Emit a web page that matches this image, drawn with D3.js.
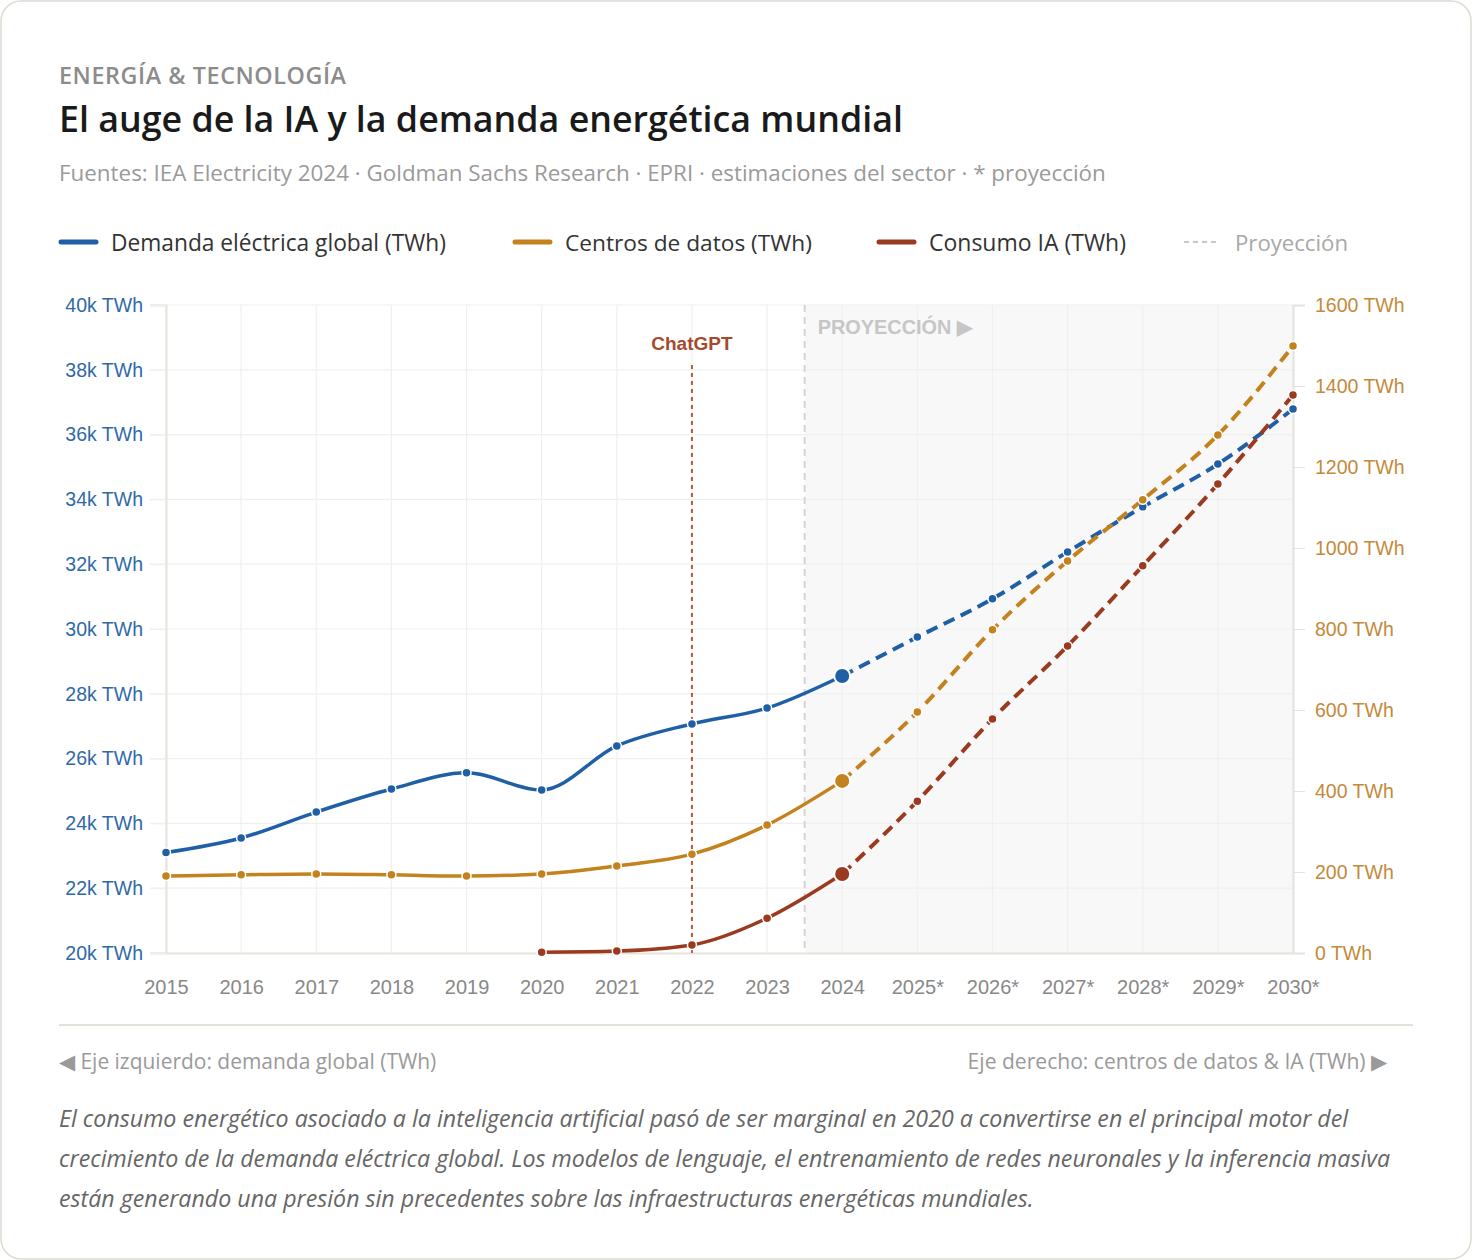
<!DOCTYPE html>
<html>
<head>
<meta charset="utf-8">
<script src="https://cdn.jsdelivr.net/npm/d3@7"></script>
<style>
  html, body { margin: 0; padding: 0; background: #ffffff; }
  svg { display: block; }
</style>
</head>
<body>
<svg id="chart" width="1472" height="1260"></svg>
<script>
// ---------- DATA ----------
const years = ["2015","2016","2017","2018","2019","2020","2021","2022","2023","2024","2025*","2026*","2027*","2028*","2029*","2030*"];
const globalDemand = [23100, 23550, 24350, 25060, 25560, 25030, 26390, 27070, 27560, 28550, 29750, 30930, 32380, 33770, 35090, 36790];
const dataCenters = [190, 193, 195, 193, 190, 195, 215, 244, 316, 425, 595, 798, 968, 1119, 1279, 1499];
const aiConsumption = [null, null, null, null, null, 2, 5, 20, 86, 195, 375, 578, 758, 956, 1158, 1378];
const leftTicks = [20000, 22000, 24000, 26000, 28000, 30000, 32000, 34000, 36000, 38000, 40000];
const rightTicks = [0, 200, 400, 600, 800, 1000, 1200, 1400, 1600];
const lastActual = "2024";
const chatgptYear = "2022";
const projectionStart = 8.5; // between 2023 and 2024 (index)
const legendItems = [
  {label: "Demanda eléctrica global (TWh)", color: "#1f5fa5", dash: null},
  {label: "Centros de datos (TWh)", color: "#c4821f", dash: null},
  {label: "Consumo IA (TWh)", color: "#9a3a1f", dash: null},
  {label: "Proyección", color: "#c8c8c8", dash: "5,4"}
];

// ---------- STYLE ----------
const C = {blue: "#1f5fa5", gold: "#c4821f", rust: "#9a3a1f"};
const HFONT = "'Open Sans', 'Noto Sans', sans-serif";
const AFONT = "'Liberation Sans', Arial, sans-serif";

const svg = d3.select("#chart");
function fit(sel, target) {
  const node = sel.node();
  const w = node.getComputedTextLength();
  const fs = parseFloat(sel.attr("font-size"));
  if (w > 0) sel.attr("font-size", (fs * target / w).toFixed(2));
}

// card
svg.append("rect").attr("x", 1).attr("y", 1).attr("width", 1470).attr("height", 1258)
  .attr("rx", 20).attr("fill", "#fff").attr("stroke", "#dcdcd3").attr("stroke-width", 1.5);

// header
const kicker = svg.append("text").attr("x", 59).attr("y", 84).attr("font-family", HFONT)
  .attr("font-size", 21).attr("font-weight", 600).attr("letter-spacing", 0.6).attr("fill", "#8c8c8c")
  .text("ENERGÍA & TECNOLOGÍA");
fit(kicker, 289);
const title = svg.append("text").attr("x", 59).attr("y", 132).attr("font-family", HFONT)
  .attr("font-size", 34).attr("font-weight", 600).attr("fill", "#1a1a1a")
  .text("El auge de la IA y la demanda energética mundial");
fit(title, 844);
const sub = svg.append("text").attr("x", 59).attr("y", 181).attr("font-family", HFONT)
  .attr("font-size", 21).attr("fill", "#9a9a9a")
  .text("Fuentes: IEA Electricity 2024 · Goldman Sachs Research · EPRI · estimaciones del sector · * proyección");
fit(sub, 1047);

// legend
const legendX = [59, 513, 877, 1182];
const legendW = [335, 247, 197, 113];
legendItems.forEach((it, i) => {
  const g = svg.append("g").attr("transform", `translate(${legendX[i]},244)`);
  g.append("line").attr("x1", 2).attr("x2", 37).attr("y1", -2).attr("y2", -2)
    .attr("stroke", it.color).attr("stroke-width", it.dash ? 2 : 5)
    .attr("stroke-linecap", it.dash ? "butt" : "round")
    .attr("stroke-dasharray", it.dash);
  const t = g.append("text").attr("x", i === 3 ? 53 : 52).attr("y", 7).attr("font-family", HFONT)
    .attr("font-size", 21).attr("fill", it.dash ? "#a8a8a8" : "#333").text(it.label);
  fit(t, legendW[i]);
});

// ---------- SCALES ----------
const x0 = 166, x1 = 1293, yTop = 305, yBot = 953;
const x = d3.scalePoint().domain(years).range([x0, x1]);
const yL = d3.scaleLinear().domain([20000, 40000]).range([yBot, yTop]);
const yR = d3.scaleLinear().domain([0, 1600]).range([yBot, yTop]);
const step = x.step();

// projection shading
const projX = x0 + projectionStart * step;
svg.append("rect").attr("x", projX).attr("y", yTop).attr("width", x1 - projX).attr("height", yBot - yTop)
  .attr("fill", "#f8f8f8");

// grid
const grid = svg.append("g");
grid.selectAll(".h").data(leftTicks).join("line")
  .attr("x1", 150).attr("x2", x1).attr("y1", d => yL(d)).attr("y2", d => yL(d))
  .attr("stroke", "#efefec").attr("stroke-width", 1.2);
grid.selectAll(".v").data(years).join("line")
  .attr("x1", d => x(d)).attr("x2", d => x(d)).attr("y1", yTop).attr("y2", yBot)
  .attr("stroke", "#efefec").attr("stroke-width", 1.2);

// projection dashed line
svg.append("line").attr("x1", projX).attr("x2", projX).attr("y1", yTop).attr("y2", yBot)
  .attr("stroke", "#d4d4d4").attr("stroke-width", 2).attr("stroke-dasharray", "7,5");
const projLabel = svg.append("text").attr("x", projX + 13).attr("y", 334).attr("font-family", AFONT)
  .attr("font-size", 18).attr("font-weight", 700).attr("fill", "#c6c6c6").text("PROYECCIÓN ▶");
fit(projLabel, 155);

// axes
const axL = svg.append("g").attr("transform", `translate(${x0},0)`)
  .call(d3.axisLeft(yL).tickValues(leftTicks).tickFormat(d => (d / 1000) + "k TWh").tickSize(16).tickPadding(7));
axL.select(".domain").attr("stroke", "#e6e4dd").attr("stroke-width", 2);
axL.selectAll(".tick line").attr("stroke", "#efefec");
axL.selectAll(".tick text").attr("font-family", AFONT).attr("font-size", 19.5).attr("fill", "#2f69a8");

const axR = svg.append("g").attr("transform", `translate(${x1},0)`)
  .call(d3.axisRight(yR).tickValues(rightTicks).tickFormat(d => d + " TWh").tickSize(12).tickPadding(10));
axR.select(".domain").attr("stroke", "#e3e3e0").attr("stroke-width", 2);
axR.selectAll(".tick line").attr("stroke", "#e3e3e0");
axR.selectAll(".tick text").attr("font-family", AFONT).attr("font-size", 19.5).attr("fill", "#c4893a");

const axB = svg.append("g").attr("transform", `translate(0,${yBot})`)
  .call(d3.axisBottom(x).tickSize(0).tickPadding(27));
axB.select(".domain").attr("stroke", "#e6e4dd").attr("stroke-width", 2);
axB.selectAll(".tick text").attr("font-family", AFONT).attr("font-size", 20).attr("fill", "#888");

// ChatGPT marker
const cx = x(chatgptYear);
svg.append("line").attr("x1", cx).attr("x2", cx).attr("y1", 365).attr("y2", yBot)
  .attr("stroke", "#b35a40").attr("stroke-width", 2).attr("stroke-dasharray", "4,4");
svg.append("text").attr("x", cx).attr("y", 350).attr("text-anchor", "middle").attr("font-family", AFONT)
  .attr("font-size", 19).attr("font-weight", 700).attr("fill", "#a8492d").text("ChatGPT");

// ---------- SERIES ----------
const series = [
  {vals: globalDemand, y: yL, color: C.blue},
  {vals: dataCenters, y: yR, color: C.gold},
  {vals: aiConsumption, y: yR, color: C.rust}
];
const iLast = years.indexOf(lastActual);
series.forEach(s => {
  const pts = years.map((yr, i) => ({yr, i, v: s.vals[i]})).filter(p => p.v != null);
  const line = d3.line().x(p => x(p.yr)).y(p => s.y(p.v)).curve(d3.curveMonotoneX);
  const actual = pts.filter(p => p.i <= iLast);
  const proj = pts.filter(p => p.i >= iLast);
  svg.append("path").attr("d", line(actual)).attr("fill", "none").attr("stroke", s.color)
    .attr("stroke-width", 3.5).attr("stroke-linecap", "round");
  svg.append("path").attr("d", line(proj)).attr("fill", "none").attr("stroke", s.color)
    .attr("stroke-width", 4).attr("stroke-dasharray", "12,7");
  svg.append("g").selectAll("circle").data(pts).join("circle")
    .attr("cx", p => x(p.yr)).attr("cy", p => s.y(p.v))
    .attr("r", p => p.i === iLast ? 8 : 4.5)
    .attr("fill", s.color).attr("stroke", "#fff").attr("stroke-width", p => p.i === iLast ? 2 : 1.5);
});

// ---------- FOOTER ----------
svg.append("line").attr("x1", 59).attr("x2", 1413).attr("y1", 1025).attr("y2", 1025)
  .attr("stroke", "#e2e1da").attr("stroke-width", 2);
const fl = svg.append("text").attr("x", 59).attr("y", 1069).attr("font-family", HFONT)
  .attr("font-size", 19).attr("fill", "#9a9a9a").text("◀ Eje izquierdo: demanda global (TWh)");
fit(fl, 378);
const fr = svg.append("text").attr("x", 1387).attr("y", 1069).attr("text-anchor", "end").attr("font-family", HFONT)
  .attr("font-size", 19).attr("fill", "#9a9a9a").text("Eje derecho: centros de datos & IA (TWh) ▶");
fit(fr, 420);

const para = [
  "El consumo energético asociado a la inteligencia artificial pasó de ser marginal en 2020 a convertirse en el principal motor del",
  "crecimiento de la demanda eléctrica global. Los modelos de lenguaje, el entrenamiento de redes neuronales y la inferencia masiva",
  "están generando una presión sin precedentes sobre las infraestructuras energéticas mundiales."
];
const pts = para.map((l, i) => svg.append("text").attr("x", 59).attr("y", 1127 + i * 40)
  .attr("font-family", HFONT).attr("font-size", 21).attr("font-style", "italic").attr("fill", "#666").text(l));
{
  const w = pts[1].node().getComputedTextLength();
  const fs = 21 * 1331 / w;
  pts.forEach(t => t.attr("font-size", fs.toFixed(2)));
}
</script>
</body>
</html>
